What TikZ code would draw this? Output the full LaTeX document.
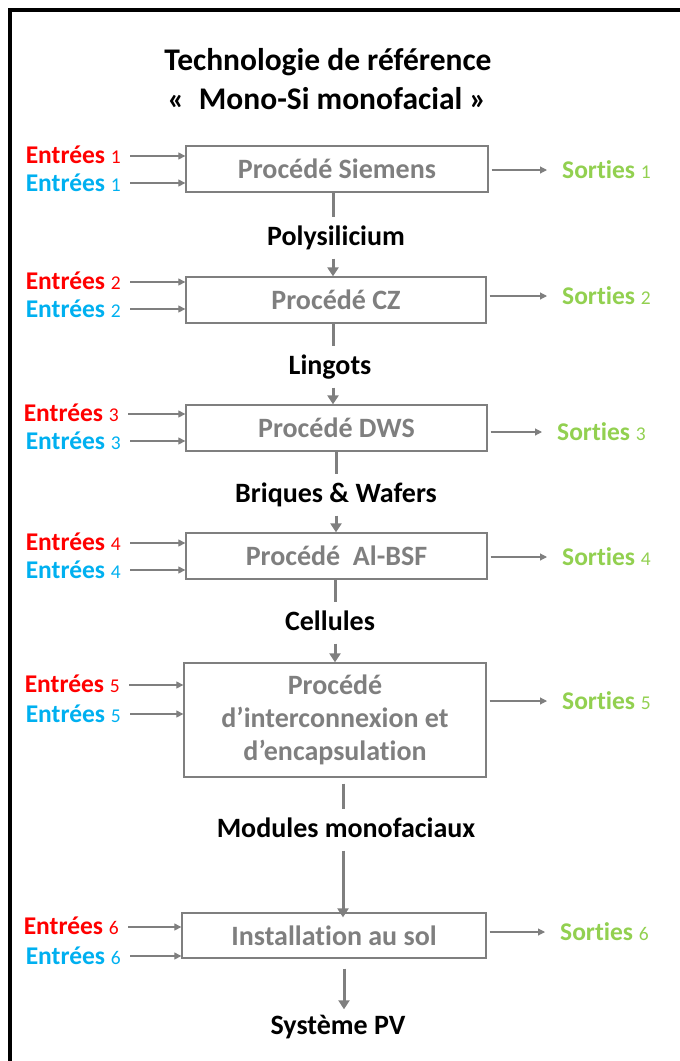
\documentclass[tikz,border=0pt]{standalone}
\usepackage{fontspec}
\setmainfont{Carlito}[Ligatures=NoCommon]
\usetikzlibrary{arrows.meta}
\definecolor{gr}{HTML}{7F7F7F}
\definecolor{inred}{HTML}{FF0000}
\definecolor{inblue}{HTML}{00B0F0}
\definecolor{outgreen}{HTML}{92D050}
\newcommand\entlab[1]{\textbf{Entrées} {\fontsize{19.5}{22}\selectfont #1}}
\newcommand\sortlab[1]{\textbf{Sorties} {\fontsize{19.5}{22}\selectfont #1}}
\tikzset{
  titlestyle/.style={font=\fontsize{31.5}{36}\selectfont\bfseries, text=black, inner sep=0pt},
  procbox/.style={draw=gr, line width=1.3pt, text=gr, font=\fontsize{28}{33}\selectfont\bfseries, align=center, inner sep=0pt},
  prodlab/.style={font=\fontsize{28}{32}\selectfont\bfseries, text=black, inner sep=0pt, text height=19pt, text depth=6pt},
  inlabel/.style={font=\fontsize{25.5}{28}\selectfont, inner sep=0pt, anchor=east},
  outlabel/.style={font=\fontsize{25.5}{28}\selectfont, inner sep=0pt, anchor=west, text=outgreen},
  inarr/.style={draw=gr, line width=1.1pt, -{Triangle[length=7pt,width=7pt]}},
  conn/.style={draw=gr, line width=3pt},
  connarr/.style={draw=gr, line width=3pt, -{Triangle[length=9pt,width=11pt]}},
}
\begin{document}
\begin{tikzpicture}[x=1pt,y=-1pt]
\useasboundingbox (0,0) rectangle (680,1061);
\draw[line width=4pt, line join=miter] (10,1061) -- (10,10) -- (680,10);

\node[titlestyle] (t1) at (328,62) {Technologie de référence};
\node[titlestyle] (t2) at (327,99) {«\ \ Mono-Si monofacial »};

% process boxes
\node[procbox, minimum width=302pt, minimum height=46pt] (b1) at (337,169) {Procédé Siemens};
\node[procbox, minimum width=300pt, minimum height=46pt] (b2) at (336,300) {Procédé CZ};
\node[procbox, minimum width=301pt, minimum height=46pt] (b3) at (336.5,428) {Procédé DWS};
\node[procbox, minimum width=301pt, minimum height=46pt] (b4) at (336.5,556) {Procédé\ \ Al-BSF};
\node[procbox, minimum width=302pt, minimum height=114pt] (b5) at (335,720) {Procédé\\d’interconnexion et\\d’encapsulation};
\node[procbox, minimum width=304pt, minimum height=45pt] (b6) at (334,935.5) {Installation au sol};

% product labels
\node[prodlab] (p1) at (336,238.5) {Polysilicium};
\node[prodlab] (p2) at (330,367.5) {Lingots};
\node[prodlab] (p3) at (336,495.5) {Briques \& Wafers};
\node[prodlab] (p4) at (330,623.5) {Cellules};
\node[prodlab] (p5) at (346,830.5) {Modules monofaciaux};
\node[prodlab] (p6) at (338,1027.5) {Système PV};

% connector x positions
\coordinate (k1) at (333,0);
\coordinate (k2) at (333,0);
\coordinate (k3) at (336,0);
\coordinate (k4) at (335,0);
\coordinate (k5) at (343,0);
\coordinate (k6) at (344,0);

\draw[conn] (k1 |- b1.south) -- ([yshift=8.5pt]k1 |- p1.north);
\draw[connarr] ([yshift=-7.5pt]k1 |- p1.south) -- (k1 |- b2.north);
\draw[conn] (k2 |- b2.south) -- ([yshift=8.5pt]k2 |- p2.north);
\draw[connarr] ([yshift=-7.5pt]k2 |- p2.south) -- (k2 |- b3.north);
\draw[conn] (k3 |- b3.south) -- ([yshift=8.5pt]k3 |- p3.north);
\draw[connarr] ([yshift=-7.5pt]k3 |- p3.south) -- (k3 |- b4.north);
\draw[conn] (k4 |- b4.south) -- ([yshift=8.5pt]k4 |- p4.north);
\draw[connarr] ([yshift=-7.5pt]k4 |- p4.south) -- (k4 |- b5.north);
\draw[conn] ([yshift=-6pt]k5 |- b5.south) -- ([yshift=8.5pt]k5 |- p5.north);
\draw[connarr] ([yshift=-7.5pt]k5 |- p5.south) -- ([yshift=-5pt]k5 |- b6.north);
\draw[connarr] ([yshift=-10pt]k6 |- b6.south) -- ([yshift=5.5pt]k6 |- p6.north);

% inputs
\node[inlabel, text=inred]  (r1) at (121,155) {\entlab{1}};
\node[inlabel, text=inblue] (u1) at (121,183) {\entlab{1}};
\node[inlabel, text=inred]  (r2) at (121,281) {\entlab{2}};
\node[inlabel, text=inblue] (u2) at (121,309) {\entlab{2}};
\node[inlabel, text=inred]  (r3) at (119,413) {\entlab{3}};
\node[inlabel, text=inblue] (u3) at (121,441) {\entlab{3}};
\node[inlabel, text=inred]  (r4) at (121,542) {\entlab{4}};
\node[inlabel, text=inblue] (u4) at (121,570) {\entlab{4}};
\node[inlabel, text=inred]  (r5) at (120,684) {\entlab{5}};
\node[inlabel, text=inblue] (u5) at (121,714) {\entlab{5}};
\node[inlabel, text=inred]  (r6) at (119,926) {\entlab{6}};
\node[inlabel, text=inblue] (u6) at (121,956) {\entlab{6}};

\foreach \r/\u/\b in {r1/u1/b1, r2/u2/b2, r3/u3/b3, r4/u4/b4, r5/u5/b5, r6/u6/b6}{
  \draw[inarr] ([xshift=9pt,yshift=-1pt]\r.east) -- ([yshift=-1pt]\r.east -| \b.west);
  \draw[inarr] ([xshift=9pt]\u.east) -- (\u.east -| \b.west);
}

% outputs
\node[outlabel] (s1) at (562,170) {\sortlab{1}};
\node[outlabel] (s2) at (562,296) {\sortlab{2}};
\node[outlabel] (s3) at (557,432) {\sortlab{3}};
\node[outlabel] (s4) at (562,557) {\sortlab{4}};
\node[outlabel] (s5) at (562,701) {\sortlab{5}};
\node[outlabel] (s6) at (560,932) {\sortlab{6}};

\foreach \s/\b in {s1/b1, s2/b2, s3/b3, s4/b4, s5/b5, s6/b6}{
  \draw[inarr, shorten <=3pt] (\s.west -| \b.east) -- ([xshift=-15pt]\s.west);
}
\end{tikzpicture}
\end{document}
